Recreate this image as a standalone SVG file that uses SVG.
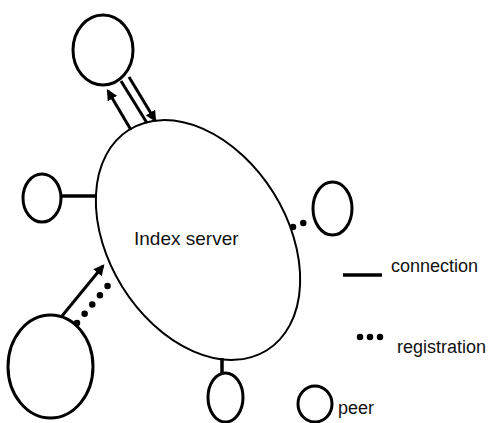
<svg xmlns="http://www.w3.org/2000/svg" width="488" height="423" viewBox="0 0 488 423">
  <style>
    .server { fill: none; stroke: #000; stroke-width: 2; }
    .peer { fill: none; stroke: #000; stroke-width: 3; }
    .conn { fill: none; stroke: #000; stroke-width: 3.5; }
    .link { fill: none; stroke: #000; stroke-width: 3; }
    .reg { fill: none; stroke: #000; stroke-width: 6.5; stroke-linecap: round; stroke-dasharray: 0 12; }
    .label { font-family: "Liberation Sans", Arial, sans-serif; fill: #111; }
  </style>
  <defs>
    <marker id="arrow" viewBox="0 0 10 10" refX="8" refY="5" markerWidth="11" markerHeight="11" markerUnits="userSpaceOnUse" orient="auto-start-reverse">
      <path d="M0,0 L10,5 L0,10 Z" fill="#000"/>
    </marker>
  </defs>

  <rect width="488" height="423" fill="#fff"/>

  <!-- central index server -->
  <g id="index-server">
    <ellipse class="server" cx="198" cy="240" rx="130" ry="89" transform="rotate(58 198 240)"/>
    <text class="label" x="134" y="245" font-size="19">Index server</text>
  </g>

  <!-- peers around the server -->
  <g id="peer-top"><ellipse class="peer" cx="103" cy="50" rx="30" ry="35"/></g>
  <g id="peer-left"><ellipse class="peer" cx="42" cy="198" rx="19" ry="24"/></g>
  <g id="peer-bottom-left"><ellipse class="peer" cx="50.5" cy="366.5" rx="42.5" ry="51.5"/></g>
  <g id="peer-right"><ellipse class="peer" cx="332.5" cy="208.5" rx="19.5" ry="26.5"/></g>
  <g id="peer-bottom"><ellipse class="peer" cx="225.5" cy="397.5" rx="17.5" ry="24.5"/></g>

  <!-- links between peers and the server -->
  <g id="connectors">
    <line class="link" x1="131" y1="130" x2="108" y2="91" marker-end="url(#arrow)"/>
    <line class="link" x1="121" y1="81" x2="147" y2="123"/>
    <line class="link" x1="129" y1="77" x2="155" y2="120" marker-end="url(#arrow)"/>
    <line class="conn" x1="60" y1="196" x2="97" y2="196"/>
    <line class="link" x1="62" y1="316" x2="103" y2="266" marker-end="url(#arrow)"/>
    <line class="reg" x1="77" y1="323" x2="110" y2="283"/>
    <line class="reg" x1="293" y1="227" x2="306" y2="222" style="stroke-dasharray:0 11"/>
    <line class="conn" x1="222" y1="358" x2="222" y2="373"/>
  </g>

  <!-- legend -->
  <g id="legend">
    <line class="conn" x1="343" y1="275" x2="382" y2="275"/>
    <text class="label" x="391" y="272" font-size="18">connection</text>
    <line class="reg" x1="360" y1="337" x2="384" y2="337" style="stroke-dasharray:0 10"/>
    <text class="label" x="397" y="353" font-size="18">registration</text>
    <ellipse class="peer" cx="315" cy="404" rx="17" ry="18"/>
    <text class="label" x="338" y="414" font-size="18">peer</text>
  </g>
</svg>
